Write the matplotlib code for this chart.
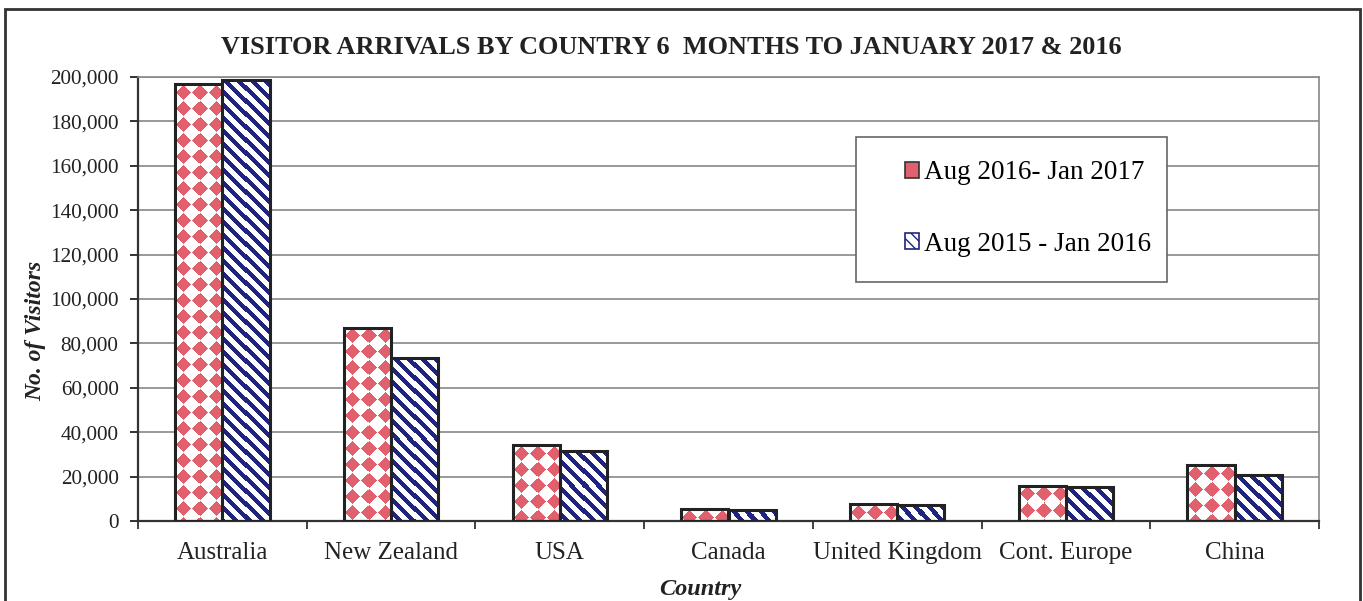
#! /usr/bin/env python

import numpy as np
import matplotlib
matplotlib.use("Agg")
import matplotlib.pyplot as plt
from matplotlib.patches import Patch, Rectangle
from matplotlib.ticker import FuncFormatter, FixedLocator

countries = ["Australia", "New Zealand", "USA", "Canada",
             "United Kingdom", "Cont. Europe", "China"]
visitors_2017 = [196800, 87000, 34200, 5400, 7500, 15900, 25200]
visitors_2016 = [198500, 73600, 31600, 5000, 7300, 15200, 20700]
series_labels = ["Aug 2016- Jan 2017", "Aug 2015 - Jan 2016"]

red = "#e0606e"
navy = "#1e2480"

plt.rcParams['font.family'] = ['Liberation Serif', 'DejaVu Serif']


def texture(kind, w, h):
    # pixel pattern filling one bar (w x h pixels)
    yy, xx = np.mgrid[0:h, 0:w].astype(float)
    img = np.ones((h, w, 3))
    if kind == "diamond":
        p = 16.0
        u = (xx / p) % 1 - 0.5
        v = (yy / p) % 1 - 0.5
        mask = np.abs(u) + np.abs(v) < 0.47
        col = matplotlib.colors.to_rgb(red)
    else:
        p = 13.0
        mask = ((xx - yy) / p) % 1 < 0.45
        col = matplotlib.colors.to_rgb(navy)
    img[mask] = col
    return img


fig = plt.figure(figsize=(13.63, 6.01), dpi=100)
fig.patch.set_facecolor("white")
ax = fig.add_axes([138/1363, 80/601, 1181/1363, 444/601])

x = np.arange(len(countries))
width = 0.28
ax.set_xlim(-0.5, len(countries) - 0.5)
ax.set_ylim(0, 200000)

bars_a = ax.bar(x - width/2, visitors_2017, width, facecolor="none",
                edgecolor="#222222", linewidth=2.2, zorder=3)
bars_b = ax.bar(x + width/2, visitors_2016, width, facecolor="none",
                edgecolor="#222222", linewidth=2.2, zorder=3)

# fill bars with the patterned textures
for bars, kind in ((bars_a, "diamond"), (bars_b, "stripe")):
    for b in bars:
        x0, y0 = b.get_x(), b.get_y()
        x1, y1 = x0 + b.get_width(), y0 + b.get_height()
        (px0, py0), (px1, py1) = ax.transData.transform([(x0, y0), (x1, y1)])
        w = max(int(round(px1 - px0)), 1)
        h = max(int(round(py1 - py0)), 1)
        im = ax.imshow(texture(kind, w, h), extent=(x0, x1, y0, y1),
                       origin="upper", interpolation="nearest",
                       aspect="auto", zorder=2)
        im.set_clip_path(b)

ax.set_xlim(-0.5, len(countries) - 0.5)
ax.set_ylim(0, 200000)

ax.set_yticks(np.arange(0, 200001, 20000))
ax.yaxis.set_major_formatter(FuncFormatter(lambda v, pos: f"{int(v):,}"))
ax.yaxis.grid(True, color="#888888", linewidth=1.2, zorder=0)
ax.set_axisbelow(True)

ax.xaxis.set_major_locator(FixedLocator(np.arange(-0.5, len(countries), 1.0)))
ax.xaxis.set_major_formatter(FuncFormatter(lambda v, pos: ""))
ax.xaxis.set_minor_locator(FixedLocator(x))
ax.set_xticklabels(countries, minor=True)
ax.tick_params(axis="x", which="minor", length=0, pad=15, labelsize=18,
               colors="#222222")
ax.tick_params(axis="x", which="major", length=6, width=1.3,
               direction="out", color="#333333")
ax.tick_params(axis="y", length=6, width=1.3, direction="out", pad=8,
               labelsize=15.3, colors="#222222")

for side in ("top", "right"):
    ax.spines[side].set_color("#888888")
    ax.spines[side].set_linewidth(1.2)
for side in ("left", "bottom"):
    ax.spines[side].set_color("#333333")
    ax.spines[side].set_linewidth(1.6)

fig.text(36/1363, 1 - 331/601, "No. of Visitors", rotation=90,
         ha="center", va="center", fontsize=17, fontweight="bold",
         fontstyle="italic", color="#222222")
fig.text(700/1363, 1 - 590/601, "Country", ha="center", va="center",
         fontsize=17.5, fontweight="bold", fontstyle="italic",
         color="#222222")

fig.text(671/1363, 1 - 47/601,
         "VISITOR ARRIVALS BY COUNTRY 6  MONTHS TO JANUARY 2017 & 2016",
         ha="center", va="center", fontsize=18.9, fontweight="bold",
         color="#222222")

# legend box drawn separately so the entries can sit off-centre like the original
ax.add_patch(Rectangle((718/1181, 239/444), 311/1181, 145/444,
                       transform=ax.transAxes, facecolor="white",
                       edgecolor="#666666", linewidth=1.2, zorder=4))
handles = [Patch(facecolor=red, edgecolor="#333333", linewidth=1.2),
           Patch(facecolor="white", edgecolor=navy, hatch="\\\\\\",
                 linewidth=1.2)]
leg = ax.legend(handles, series_labels, loc="center left",
                bbox_to_anchor=(767/1181, 312.5/444),
                fontsize=19.5, frameon=False, labelspacing=1.7,
                handlelength=0.5, handleheight=0.5, handletextpad=0.2,
                borderpad=0, borderaxespad=0)
leg.set_zorder(5)

# outer chart frame
fig.patches.append(Rectangle((5/1363, -0.05), 1355/1363, 1.05 - 9/601,
                             transform=fig.transFigure, fill=False,
                             edgecolor="#333333", linewidth=2))

fig.savefig("out.png", dpi=100, facecolor="white")
